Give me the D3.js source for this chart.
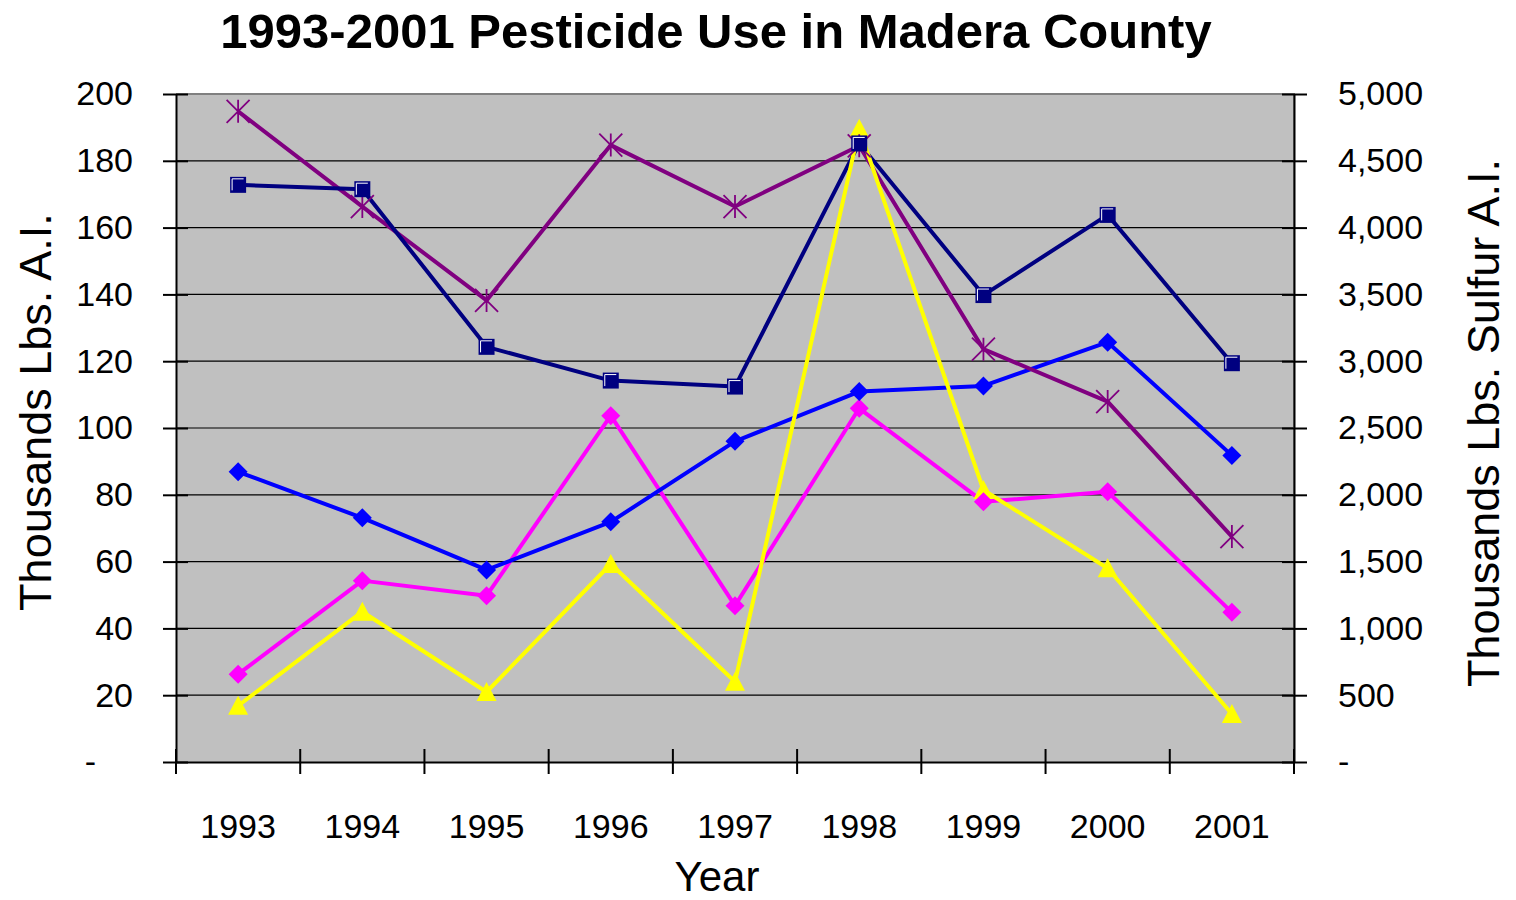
<!DOCTYPE html>
<html>
<head>
<meta charset="utf-8">
<script src="https://cdn.jsdelivr.net/npm/d3@7"></script>
<style>
    body { margin: 0; background: #fff; }
    svg text { font-family: "Liberation Sans", Arial, sans-serif; fill: #000; }
</style>
</head>
<body>
<div class="osvg"></div>
<script>
// values (thousands lbs)
var years = ['1993', '1994', '1995', '1996', '1997', '1998', '1999', '2000', '2001'];
var navySquares = [172.8, 171.5, 124.3, 114.2, 112.4, 185.2, 139.8, 163.8, 119.4];
var purpleStars = [194.8, 166.3, 138.2, 184.7, 166.3, 184.5, 123.6, 107.9, 67.5];
var blueDiamonds = [86.9, 73.1, 57.5, 71.9, 96.0, 110.9, 112.6, 125.7, 91.8];
var pinkDiamonds = [26.3, 54.3, 49.8, 103.7, 46.8, 105.9, 77.9, 80.9, 44.8];
// sulfur, right axis
var sulfurTriangles = [421, 1125, 524, 1482, 601, 4740, 2036, 1450, 359];

var leftTicks = [0, 20, 40, 60, 80, 100, 120, 140, 160, 180, 200];
var rightTicks = [0, 500, 1000, 1500, 2000, 2500, 3000, 3500, 4000, 4500, 5000];

(function (window, document, undefined) {

    var margin = { top: 94, right: 222, bottom: 138, left: 176 };
    var width = 1516 - margin.left - margin.right;
    var height = 900 - margin.top - margin.bottom;

    var series = [
        { values: pinkDiamonds, color: '#FF00FF', axis: 'left', marker: 'diamond' },
        { values: blueDiamonds, color: '#0000FF', axis: 'left', marker: 'diamond' },
        { values: purpleStars, color: '#800080', axis: 'left', marker: 'star' },
        { values: navySquares, color: '#000080', axis: 'left', marker: 'square' },
        { values: sulfurTriangles, color: '#FFFF00', axis: 'right', marker: 'triangle' }
    ];
    // markers go on in this order (navy square ends up on top at 1998)
    var markerOrder = [4, 0, 1, 2, 3];

    var x = d3.scaleBand()
        .domain(years)
        .range([0, width])
        .padding(0);

    var yLeft = d3.scaleLinear()
        .domain([0, 200])
        .range([height, 0]);

    var yRight = d3.scaleLinear()
        .domain([0, 5000])
        .range([height, 0]);

    var svg = d3.select('.osvg').append('svg')
        .attr('width', 1516)
        .attr('height', 900);

    svg.append('rect')
        .attr('width', 1516)
        .attr('height', 900)
        .attr('fill', '#fff');

    var g = svg.append('g')
        .attr('transform', 'translate(' + margin.left + ',' + margin.top + ')');

    g.append('rect')
        .attr('width', width)
        .attr('height', height)
        .attr('fill', '#C0C0C0');

    g.append('g')
        .attr('class', 'grid')
        .selectAll('line')
        .data(leftTicks.filter(function (d) { return d > 0; }))
        .enter().append('line')
        .attr('x1', 0)
        .attr('x2', width)
        .attr('y1', function (d) { return yLeft(d); })
        .attr('y2', function (d) { return yLeft(d); })
        .attr('stroke', '#000')
        .attr('stroke-width', 1.2);

    // plot area border (top, right)
    g.append('path')
        .attr('d', 'M0,0H' + width + 'V' + height)
        .attr('fill', 'none')
        .attr('stroke', '#808080')
        .attr('stroke-width', 2);

    var cx = function (i) { return x(years[i]) + x.bandwidth() / 2; };
    var yOf = function (s) { return s.axis === 'left' ? yLeft : yRight; };

    series.forEach(function (s) {
        var line = d3.line()
            .x(function (d, i) { return cx(i); })
            .y(function (d) { return yOf(s)(d); });

        g.append('path')
            .datum(s.values)
            .attr('fill', 'none')
            .attr('stroke', s.color)
            .attr('stroke-width', 4)
            .attr('stroke-linejoin', 'round')
            .attr('d', line);
    });

    var shapes = {
        diamond: 'M0,-9.5L9.5,0L0,9.5L-9.5,0Z',
        triangle: 'M0,-10L10,9L-10,9Z',
        square: 'M-8,-8H8V8H-8Z',
        star: 'M-11.5,-11.5L11.5,11.5M-11.5,11.5L11.5,-11.5M0,-11.5V11.5'
    };

    markerOrder.forEach(function (k) {
        var s = series[k];
        var pts = g.append('g')
            .attr('class', 'markers')
            .selectAll('g')
            .data(s.values)
            .enter().append('g')
            .attr('transform', function (d, i) {
                return 'translate(' + cx(i) + ',' + yOf(s)(d) + ')';
            });

        if (s.marker === 'star') {
            pts.append('path')
                .attr('d', shapes.star)
                .attr('fill', 'none')
                .attr('stroke', s.color)
                .attr('stroke-width', 1.8);
        } else {
            pts.append('path')
                .attr('d', shapes[s.marker])
                .attr('fill', s.color);
        }

        if (s.marker === 'square') {
            pts.append('path')
                .attr('d', 'M-6,5.5V-6H5.5')
                .attr('fill', 'none')
                .attr('stroke', '#fff')
                .attr('stroke-width', 1);
        }
    });

    // axes
    var fmtLeft = function (d) { return d === 0 ? '-' : d; };
    var fmtRight = function (d) { return d === 0 ? '-' : d3.format(',')(d); };

    var axisLeft = g.append('g')
        .attr('class', 'axis axis--left')
        .call(d3.axisLeft(yLeft)
            .tickValues(leftTicks)
            .tickFormat(fmtLeft)
            .tickSizeInner(13)
            .tickSizeOuter(0)
            .tickPadding(30));

    axisLeft.selectAll('.tick line').attr('x1', 12);
    axisLeft.selectAll('.tick text')
        .filter(function (d) { return d === 0; })
        .attr('x', -80);

    var axisRight = g.append('g')
        .attr('class', 'axis axis--right')
        .attr('transform', 'translate(' + width + ',0)')
        .call(d3.axisRight(yRight)
            .tickValues(rightTicks)
            .tickFormat(fmtRight)
            .tickSizeInner(13)
            .tickSizeOuter(0)
            .tickPadding(31));

    axisRight.selectAll('.tick line').attr('x1', -12);

    var axisBottom = g.append('g')
        .attr('class', 'axis axis--x')
        .attr('transform', 'translate(0,' + height + ')')
        .call(d3.axisBottom(x)
            .tickSize(0)
            .tickPadding(52));

    // tick marks sit on the category boundaries
    axisBottom.selectAll('.bound')
        .data(d3.range(years.length + 1))
        .enter().append('line')
        .attr('class', 'bound')
        .attr('x1', function (i) { return i * x.step(); })
        .attr('x2', function (i) { return i * x.step(); })
        .attr('y1', -13)
        .attr('y2', 12)
        .attr('stroke', '#000')
        .attr('stroke-width', 2);

    g.selectAll('.axis path.domain')
        .attr('stroke', '#000')
        .attr('stroke-width', 2);
    g.selectAll('.axis .tick line')
        .attr('stroke', '#000')
        .attr('stroke-width', 2);
    g.selectAll('.axis text')
        .style('font-size', '34px')
        .attr('fill', '#000');

    // titles
    svg.append('text')
        .attr('x', 716)
        .attr('y', 48)
        .style('text-anchor', 'middle')
        .style('font-size', '49px')
        .style('font-weight', 'bold')
        .text('1993-2001 Pesticide Use in Madera County');

    svg.append('text')
        .attr('transform', 'translate(51,' + 412 + ') rotate(-90)')
        .style('text-anchor', 'middle')
        .style('font-size', '45px')
        .text('Thousands Lbs. A.I.');

    svg.append('text')
        .attr('transform', 'translate(1499,' + 423 + ') rotate(-90)')
        .style('text-anchor', 'middle')
        .style('font-size', '45px')
        .text('Thousands Lbs. Sulfur A.I.');

    svg.append('text')
        .attr('x', 717)
        .attr('y', 891)
        .style('text-anchor', 'middle')
        .style('font-size', '42px')
        .text('Year');

})(window, document);
</script>
</body>
</html>
